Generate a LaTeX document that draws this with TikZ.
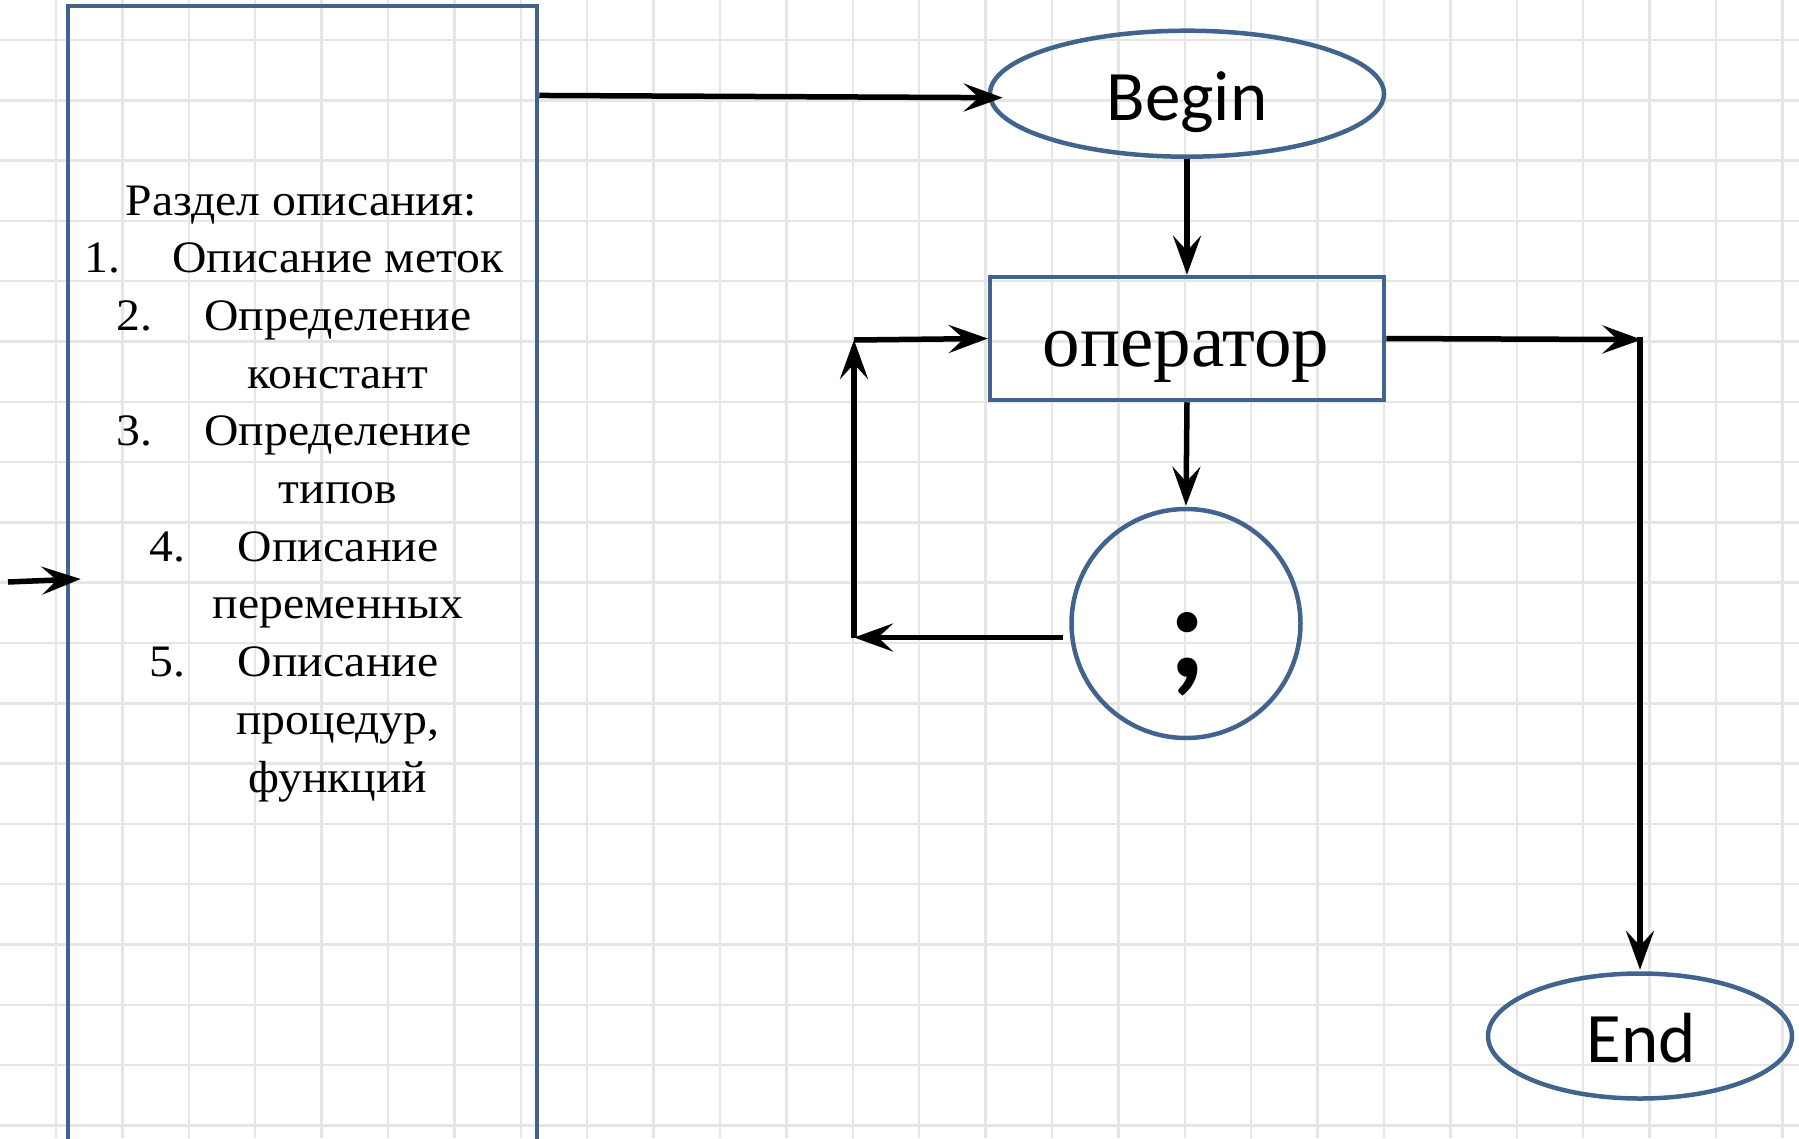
\documentclass[tikz,border=0pt]{standalone}
\usepackage{fontspec}
\setmainfont{Liberation Serif}
\newfontfamily\lfont[FakeStretch=1.06]{Liberation Serif}
\newfontfamily\cfont{Carlito}
\usetikzlibrary{arrows.meta,shapes.geometric,calc}
\definecolor{bord}{HTML}{41648F}
\definecolor{gridc}{HTML}{E6E6E6}
\begin{document}
\begin{tikzpicture}[x=1pt,y=-1pt,
  gridline/.style={draw=gridc,line width=2.5pt},
  outl/.style={draw=bord,line width=4.5pt,inner sep=0pt},
  declbox/.style={outl,rectangle,minimum width=469pt,minimum height=1154pt},
  opbox/.style={outl,rectangle,minimum width=394pt,minimum height=123pt},
  term/.style={outl,ellipse},
  conn/.style={outl,circle,minimum size=229pt},
  lt/.style={font=\lfont\fontsize{45}{54}\selectfont,inner sep=0pt,anchor=base},
  cl/.style={font=\cfont\fontsize{71}{80}\selectfont,inner sep=0pt,anchor=base},
  ol/.style={font=\fontsize{75}{85}\selectfont,inner sep=0pt,anchor=base},
  sl/.style={font=\cfont\bfseries\fontsize{138}{150}\selectfont,inner sep=0pt,anchor=base},
  arr/.style={line width=5.5pt,-{Stealth[length=39pt,width=28pt,inset=15pt]}}
]
\useasboundingbox (0,0) rectangle (1799,1138);
\clip (0,0) rectangle (1799,1138);
\fill[white] (0,0) rectangle (1799,1138);
% grid
\foreach \i in {0,...,26} \draw[gridline] ({56+66.4*\i},0) -- ({56+66.4*\i},1138);
\foreach \j in {0,...,18} \draw[gridline] (0,{40+60.3*\j}) -- (1799,{40+60.3*\j});

% left declaration box
\node[declbox] (decl) at (302.5,583) {};
\node[lt] (h) at (301,215) {Раздел описания:};
\node[lt] (t1) at (338,272.7) {Описание меток};
\node[lt] (t2) at (338,330.4) {Определение};
\node[lt] (t2b) at (338,388.1) {констант};
\node[lt] (t3) at (338,445.8) {Определение};
\node[lt] (t3b) at (338,503.5) {типов};
\node[lt] (t4) at (338,561.2) {Описание};
\node[lt] (t4b) at (338,618.9) {переменных};
\node[lt] (t5) at (338,676.6) {Описание};
\node[lt] (t5b) at (338,734.3) {процедур,};
\node[lt] (t5c) at (338,792) {функций};
\node[lt,anchor=base east] (n1) at ($(t1.base west)+(-52,0)$) {1.};
\node[lt,anchor=base east] (n2) at ($(t2.base west)+(-52,0)$) {2.};
\node[lt,anchor=base east] (n3) at ($(t3.base west)+(-52,0)$) {3.};
\node[lt,anchor=base east] (n4) at ($(t4.base west)+(-52,0)$) {4.};
\node[lt,anchor=base east] (n5) at ($(t5.base west)+(-52,0)$) {5.};

% flowchart shapes
\node[term,minimum width=394pt,minimum height=126pt] (begin) at (1187,93.7) {};
\node[cl] (beginl) at (1187,120) {Begin};
\node[opbox] (op) at (1187,338.5) {};
\node[ol] (opl) at (1186,366) {оператор};
\node[conn] (semi) at (1186,623.5) {};
\node[sl] (semil) at (1187.5,677) {;};
\node[term,minimum width=304pt,minimum height=125pt] (end) at (1640,1036) {};
\node[cl] (endl) at (1641,1062) {End};

% helper coordinates
\coordinate (inl) at (8,582);
\coordinate (lc) at (854,637.5);
\coordinate (uc) at (854,340);
\coordinate (rc) at (1641.5,339.6);

% connectors
\draw[arr] (inl) -- ($(decl.west)+(15,-4)$);
\draw[arr] ($(decl.north east)+(0,91.7)$) -- ($(begin.west)+(15,4)$);
\draw[arr] (begin.south) -- (op.north);
\draw[arr] (op.south) -- ($(semi.north)+(0,-1)$);
\draw[arr] ($(semi.west)+(-6,14)$) -- (lc);
\draw[arr] (lc) -- (uc);
\draw[arr] (uc) -- (op.west);
\draw[arr] (op.east) -- (rc);
\draw[arr] ($(rc)+(-1.5,-2.5)$) -- ($(end.north)+(0,-1.5)$);
\end{tikzpicture}
\end{document}
